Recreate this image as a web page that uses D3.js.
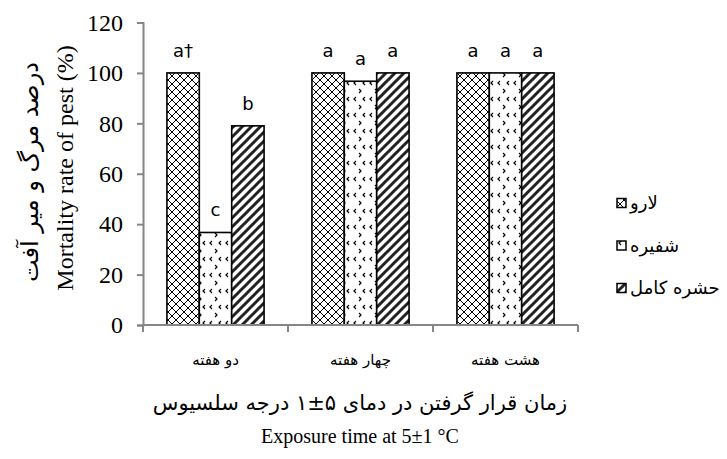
<!DOCTYPE html>
<html><head><meta charset="utf-8">
<script src="https://cdn.jsdelivr.net/npm/d3@7/dist/d3.min.js"></script>
<style>
html,body{margin:0;padding:0;background:#fff;}
svg{display:block;}
</style></head>
<body>
<svg id="chart" width="727" height="459"></svg>
<script>
// ---- data ----
const categories = ["دو هفته", "چهار هفته", "هشت هفته"];
const seriesNames = ["لارو", "شفیره", "حشره کامل"];
const larvaValues = [100, 100, 100];
const pupaValues = [36.7, 96.7, 100];
const adultValues = [79, 100, 100];
const larvaLetters = ["a†", "a", "a"];
const pupaLetters = ["c", "a", "a"];
const adultLetters = ["b", "a", "a"];
const yTicks = [0, 20, 40, 60, 80, 100, 120];

const seriesValues = [larvaValues, pupaValues, adultValues];
const seriesLetters = [larvaLetters, pupaLetters, adultLetters];
const patterns = ["pLarva", "pPupa", "pAdult"];

const W = 727, H = 459;
const margin = {left: 143, right: 149, top: 22.5, bottom: 134};
const svg = d3.select("#chart");

// ---- patterns ----
const defs = svg.append("defs");
const pl = defs.append("pattern").attr("id", "pLarva").attr("patternUnits", "userSpaceOnUse")
  .attr("width", 8).attr("height", 8);
pl.append("rect").attr("width", 8).attr("height", 8).attr("fill", "#fff");
pl.append("path").attr("d", "M0,0L8,8M8,0L0,8").attr("stroke", "#000").attr("stroke-width", 1);

const pp = defs.append("pattern").attr("id", "pPupa").attr("patternUnits", "userSpaceOnUse")
  .attr("width", 16).attr("height", 16);
pp.append("rect").attr("width", 16).attr("height", 16).attr("fill", "#fff");
pp.append("path").attr("d", "M4,1L2,3L4,5 M13,1L11,3L13,5 M7,9L9,11L7,13")
  .attr("stroke", "#000").attr("stroke-width", 1.2).attr("fill", "none");

const pa = defs.append("pattern").attr("id", "pAdult").attr("patternUnits", "userSpaceOnUse")
  .attr("width", 9).attr("height", 9);
pa.append("rect").attr("width", 9).attr("height", 9).attr("fill", "#fff");
pa.append("path").attr("d", "M-1,1L1,-1M0,9L9,0M8,10L10,8").attr("stroke", "#222").attr("stroke-width", 3);

// ---- scales ----
const x = d3.scaleBand().domain(categories).range([margin.left, W - margin.right])
  .paddingInner(0.33).paddingOuter(0.165);
const xs = d3.scaleBand().domain(seriesNames).range([0, x.bandwidth()]).padding(0);
const y = d3.scaleLinear().domain([0, 120]).range([H - margin.bottom, margin.top]);

// ---- bars ----
seriesNames.forEach((s, si) => {
  const g = svg.append("g");
  g.selectAll("rect").data(categories).join("rect")
    .attr("x", c => x(c) + xs(s))
    .attr("y", (c, i) => y(seriesValues[si][i]))
    .attr("width", xs.bandwidth())
    .attr("height", (c, i) => y(0) - y(seriesValues[si][i]))
    .attr("fill", `url(#${patterns[si]})`)
    .attr("stroke", "#000").attr("stroke-width", 1.6);
  g.selectAll("text").data(categories).join("text")
    .attr("x", c => x(c) + xs(s) + xs.bandwidth() / 2)
    .attr("y", (c, i) => y(seriesValues[si][i]) - 16)
    .attr("text-anchor", "middle")
    .attr("font-family", "DejaVu Sans, sans-serif")
    .attr("font-size", 18)
    .text((c, i) => seriesLetters[si][i]);
});

// ---- y axis ----
const yAxis = svg.append("g").attr("transform", `translate(${margin.left},0)`)
  .call(d3.axisLeft(y).tickValues(yTicks).tickSize(6).tickPadding(14));
yAxis.select(".domain").attr("stroke", "#868686").attr("stroke-width", 2);
yAxis.selectAll(".tick line").attr("stroke", "#868686").attr("stroke-width", 2);
yAxis.selectAll(".tick text").attr("font-family", "Liberation Serif, Times New Roman, serif")
  .attr("font-size", 24).attr("fill", "#000");

// ---- x axis ----
const xAxis = svg.append("g").attr("transform", `translate(0,${y(0)})`)
  .call(d3.axisBottom(x).tickSize(0).tickPadding(29));
xAxis.select(".domain").remove();
xAxis.selectAll(".tick text").attr("font-family", "DejaVu Sans, sans-serif")
  .attr("font-size", 15).attr("fill", "#000");
const bounds = [x.range()[0]].concat(categories.map(c => x(c) + x.bandwidth() + x.step() * x.paddingInner() / 2));
svg.append("line").attr("x1", x.range()[0]).attr("x2", x.range()[1])
  .attr("y1", y(0)).attr("y2", y(0)).attr("stroke", "#868686").attr("stroke-width", 2);
svg.selectAll(".btick").data(bounds).join("line").attr("class", "btick")
  .attr("x1", d => d).attr("x2", d => d).attr("y1", y(0)).attr("y2", y(0) + 7)
  .attr("stroke", "#868686").attr("stroke-width", 2);

// ---- axis titles ----
svg.append("text").attr("transform", "translate(73,168) rotate(-90)")
  .attr("text-anchor", "middle").attr("font-family", "Liberation Serif, Times New Roman, serif")
  .attr("font-size", 24).text("Mortality rate of pest (%)");
svg.append("text").attr("transform", "translate(38,172) rotate(-90)")
  .attr("text-anchor", "middle").attr("direction", "rtl").attr("font-family", "DejaVu Sans, sans-serif")
  .attr("font-size", 24).text("درصد مرگ و میر آفت");
svg.append("text").attr("x", 360).attr("y", 410)
  .attr("text-anchor", "middle").attr("direction", "rtl").attr("font-family", "DejaVu Sans, sans-serif")
  .attr("font-size", 21).text("زمان قرار گرفتن در دمای ۵±۱ درجه سلسیوس");
svg.append("text").attr("x", 360).attr("y", 443)
  .attr("text-anchor", "middle").attr("font-family", "Liberation Serif, Times New Roman, serif")
  .attr("font-size", 20).text("Exposure time at 5±1 °C");

// ---- legend ----
const legendY = d3.scalePoint().domain(seriesNames).range([203, 288]);
const lg = svg.append("g");
seriesNames.forEach((s, si) => {
  lg.append("rect").attr("x", 617).attr("y", legendY(s) - 4.5).attr("width", 9).attr("height", 9)
    .attr("fill", `url(#${patterns[si]})`).attr("stroke", "#000").attr("stroke-width", 1.5);
  lg.append("text").attr("x", 630).attr("y", legendY(s) + 6)
    .attr("font-family", "DejaVu Sans, sans-serif").attr("font-size", 18).text(s);
});
</script>
</body></html>
